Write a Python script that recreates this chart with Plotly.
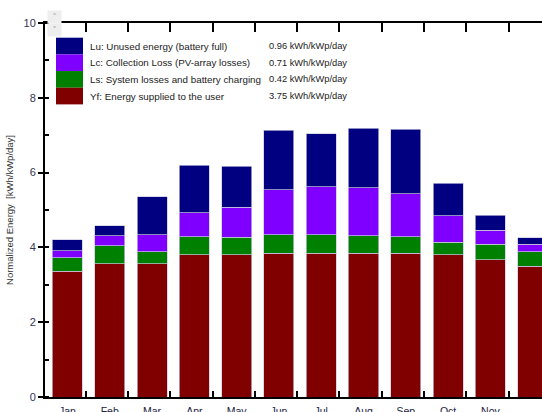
import plotly.graph_objects as go

months = ["Jan", "Feb", "Mar", "Apr", "May", "Jun", "Jul", "Aug", "Sep", "Oct", "Nov", "Dec"]
yf = [3.36, 3.56, 3.56, 3.80, 3.81, 3.85, 3.85, 3.85, 3.85, 3.81, 3.67, 3.50]
ls = [0.37, 0.49, 0.33, 0.49, 0.46, 0.49, 0.49, 0.46, 0.44, 0.33, 0.41, 0.39]
lc = [0.18, 0.26, 0.45, 0.64, 0.80, 1.20, 1.28, 1.28, 1.14, 0.71, 0.38, 0.19]
lu = [0.30, 0.27, 1.02, 1.27, 1.10, 1.59, 1.42, 1.60, 1.73, 0.87, 0.40, 0.18]

series_names = ["Lu: Unused energy (battery full)", "Lc: Collection Loss (PV-array losses)",
                "Ls: System losses and battery charging", "Yf: Energy supplied to the user"]
series_values = ["0.96 kWh/kWp/day", "0.71 kWh/kWp/day", "0.42 kWh/kWp/day", "3.75 kWh/kWp/day"]
colors = ["#000080", "#8000ff", "#008000", "#800000"]

W, H = 542, 412
L, R, T, B = 45, 0, 23, 14.5
pw, ph = W - L - R, H - T - B

def px(x):
    return (x - L) / pw

def py(y):
    return (H - B - y) / ph

xs = list(range(len(months)))
boundaries = [i + 0.43 for i in range(12)]
fig = go.Figure()
for vals, name, col in [(yf, series_names[3], colors[3]), (ls, series_names[2], colors[2]),
                        (lc, series_names[1], colors[1]), (lu, series_names[0], colors[0])]:
    fig.add_trace(go.Bar(x=xs, y=vals, name=name, marker=dict(color=col, line=dict(color="#c8c8e0", width=0.7)),
                         showlegend=False))
# helper trace to carry the top axis
fig.add_trace(go.Scatter(x=[xs[0]], y=[0], xaxis="x2", mode="markers", marker=dict(opacity=0),
                         showlegend=False, hoverinfo="skip"))

shapes = []
annotations = []
row_h = 16.7
for i, (n, v, c) in enumerate(zip(series_names, series_values, colors)):
    y0 = 37.7 + i * row_h
    shapes.append(dict(type="rect", xref="paper", yref="paper", x0=px(56), x1=px(83),
                       y0=py(y0 + row_h), y1=py(y0), fillcolor=c, line=dict(width=0), layer="above"))
    annotations.append(dict(xref="paper", yref="paper", x=px(88), y=py(y0 + row_h / 2), text=n,
                            showarrow=False, xanchor="left", yanchor="middle",
                            font=dict(family="Arial", size=9.8, color="#222222")))
    annotations.append(dict(xref="paper", yref="paper", x=px(349), y=py(y0 + row_h / 2), text=v,
                            showarrow=False, xanchor="right", yanchor="middle",
                            font=dict(family="Arial", size=9.3, color="#222222")))

# small scroll widget
for t, yc in [("\u02c4", 17), ("\u02c5", 30.5)]:
    annotations.append(dict(xref="paper", yref="paper", x=px(54), y=py(yc), text=t, showarrow=False,
                            xanchor="center", yanchor="middle", bgcolor="#eeeeee",
                            font=dict(family="DejaVu Sans", size=8, color="#999999"), width=11, height=10))

fig.update_layout(
    barmode="stack", bargap=0.29,
    width=W, height=H, margin=dict(l=L, r=R, t=T, b=B, autoexpand=False),
    plot_bgcolor="white", paper_bgcolor="white",
    shapes=shapes, annotations=annotations,
    xaxis=dict(range=[-0.53, 11.22], tickmode="array", tickvals=xs, ticktext=months,
               ticks="", showgrid=False, zeroline=False, automargin=False,
               showline=True, linecolor="black", linewidth=2,
               layer="below traces", ticklabelstandoff=3,
               minor=dict(tickmode="array", tickvals=boundaries,
                          ticks="inside", ticklen=6, tickcolor="black", tickwidth=1.5),
               tickfont=dict(family="Arial", size=10.5, color="#222244")),
    xaxis2=dict(range=[-0.53, 11.22], overlaying="x", side="top", anchor="y", matches="x",
                tickmode="array", tickvals=boundaries, ticktext=[""] * 12,
                ticks="inside", ticklen=9, tickcolor="black", tickwidth=1.5,
                showgrid=False, zeroline=False, automargin=False,
                showline=True, linecolor="black", linewidth=2),
    yaxis=dict(range=[0, 10], dtick=2, ticks="outside", ticklen=5, tickcolor="black", tickwidth=1.5,
               showgrid=False, zeroline=False, showline=True, linecolor="black", linewidth=2,
               automargin=False,
               minor=dict(dtick=1, ticks="inside", ticklen=4, tickcolor="black"),
               tickfont=dict(family="Arial", size=11, color="#333355"),
               title=dict(text="Normalized Energy  [kWh/kWp/day]", standoff=8,
                          font=dict(family="Arial", size=9.5, color="#333333"))),
)
fig.write_html("out.html", config={"displayModeBar": False},
               post_script="document.body.style.margin='0';document.body.style.overflow='hidden';")
